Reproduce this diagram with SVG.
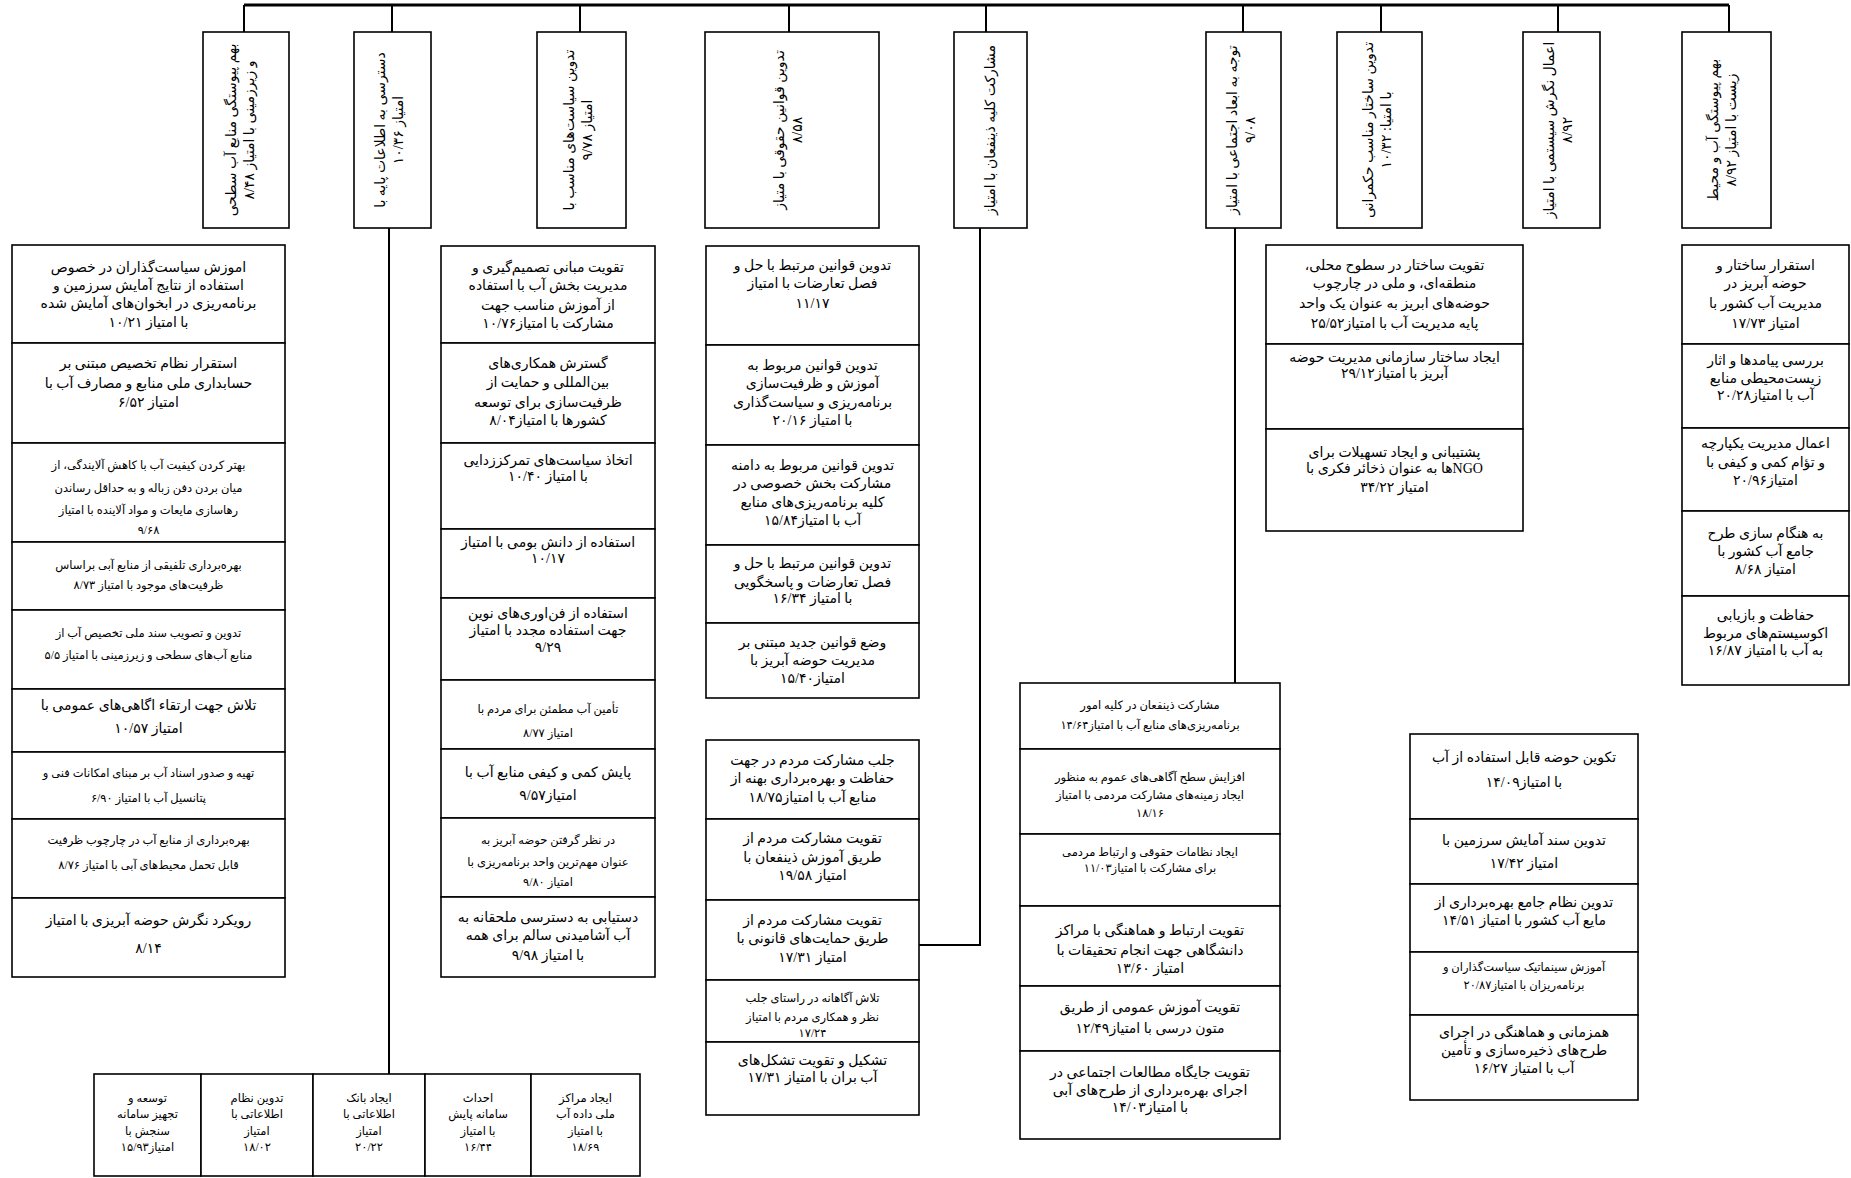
<svg xmlns="http://www.w3.org/2000/svg" width="1851" height="1178" viewBox="0 0 1851 1178">
<style>
.bx{fill:#fff;stroke:#000;stroke-width:1.6}
.ln{stroke:#000;stroke-width:2;fill:none}
.bus{stroke-width:3}
text{font-family:"Liberation Serif","DejaVu Sans",sans-serif;font-size:14px;text-anchor:middle;direction:rtl;fill:#000}
.s{font-size:11.5px}
.h{font-size:14px}
</style>
<rect width="1851" height="1178" fill="#fff"/>
<g id="connectors">
<path class="ln bus" d="M244,5H1729"/>
<path class="ln" d="M244,5V32M392,5V32M580,5V32M789,5V32M986,5V32M1243,5V32M1381,5V32M1558,5V32M1729,5V32"/>
<path class="ln" d="M389,228V1074"/>
<path class="ln" d="M980,228V945H919"/>
<path class="ln" d="M1235,228V683"/>
</g>
<!-- headers -->
<g id="h1"><rect class="bx" x="203" y="32" width="86" height="196"/><g transform="translate(240,130) rotate(-90)"><text class="h" y="-4">بهم پیوستگی منابع آب سطحی</text><text class="h" y="14">و زیرزمینی با امتیاز ۸/۴۸</text></g></g>
<g id="h2"><rect class="bx" x="354" y="32" width="77" height="196"/><g transform="translate(389,130) rotate(-90)"><text class="h" y="-4">دسترسی به اطلاعات پایه با</text><text class="h" y="14">امتیاز ۱۰/۳۶</text></g></g>
<g id="h3"><rect class="bx" x="537" y="32" width="89" height="196"/><g transform="translate(578,130) rotate(-90)"><text class="h" y="-4">تدوین سیاست&#8204;های مناسب با</text><text class="h" y="14">امتیاز ۹/۷۸</text></g></g>
<g id="h4"><rect class="bx" x="705" y="32" width="174" height="196"/><g transform="translate(788,130) rotate(-90)"><text class="h" y="-4">تدوین قوانین حقوقی با متیاز</text><text class="h" y="14">۸/۵۸</text></g></g>
<g id="h5"><rect class="bx" x="954" y="32" width="73" height="196"/><g transform="translate(990,130) rotate(-90)"><text class="h" y="5">مشارکت کلیه ذینفعان با امتیاز</text></g></g>
<g id="h6"><rect class="bx" x="1206" y="32" width="75" height="196"/><g transform="translate(1241,130) rotate(-90)"><text class="h" y="-4">توجه به ابعاد اجتماعی با امتیاز</text><text class="h" y="14">۹/۰۸</text></g></g>
<g id="h7"><rect class="bx" x="1337" y="32" width="85" height="196"/><g transform="translate(1377,130) rotate(-90)"><text class="h" y="-4">تدوین ساختار مناسب حکمرانی</text><text class="h" y="14">با امتیا: ۱۰/۳۲</text></g></g>
<g id="h8"><rect class="bx" x="1523" y="32" width="77" height="196"/><g transform="translate(1558,130) rotate(-90)"><text class="h" y="-4">اعمال نگرش سیستمی با امتیاز</text><text class="h" y="14">۸/۹۲</text></g></g>
<g id="h9"><rect class="bx" x="1682" y="32" width="89" height="196"/><g transform="translate(1722,130) rotate(-90)"><text class="h" y="-4">بهم پیوستگی آب و محیط</text><text class="h" y="14">زیست با امتیاز ۸/۹۲</text></g></g>
<!-- column 1 -->
<g id="c1a"><rect class="bx" x="12" y="245" width="273" height="98"/><text x="148.5" y="272">اموزش سیاست&#8204;گذاران در خصوص</text><text x="148.5" y="290">استفاده از نتایج آمایش سرزمین و</text><text x="148.5" y="308">برنامه&#8204;ریزی در ابخوان&#8204;های آمایش شده</text><text x="148.5" y="327">با امتیاز ۱۰/۲۱</text></g>
<g id="c1b"><rect class="bx" x="12" y="343" width="273" height="100"/><text x="148.5" y="368">استقرار نظام تخصیص مبتنی بر</text><text x="148.5" y="388">حسابداری ملی منابع و مصارف آب با</text><text x="148.5" y="407">امتیاز ۶/۵۲</text></g>
<g id="c1c"><rect class="bx" x="12" y="443" width="273" height="99"/><text class="s" x="148.5" y="469">بهتر کردن کیفیت آب با کاهش آلایندگی، از</text><text class="s" x="148.5" y="492">میان بردن دفن زباله و به حداقل رساندن</text><text class="s" x="148.5" y="514">رهاسازی مایعات و مواد آلاینده با امتیاز</text><text class="s" x="148.5" y="534">۹/۶۸</text></g>
<g id="c1d"><rect class="bx" x="12" y="542" width="273" height="68"/><text class="s" x="148.5" y="569">بهره&#8204;برداری تلفیقی از منابع آبی براساس</text><text class="s" x="148.5" y="589">ظرفیت&#8204;های موجود با امتیاز ۸/۷۳</text></g>
<g id="c1e"><rect class="bx" x="12" y="610" width="273" height="79"/><text class="s" x="148.5" y="637">تدوین و تصویب سند ملی تخصیص آب از</text><text class="s" x="148.5" y="659">منابع آب&#8204;های سطحی و زیرزمینی با امتیاز ۵/۵</text></g>
<g id="c1f"><rect class="bx" x="12" y="689" width="273" height="63"/><text x="148.5" y="710">تلاش جهت ارتقاء اگاهی&#8204;های عمومی با</text><text x="148.5" y="733">امتیاز ۱۰/۵۷</text></g>
<g id="c1g"><rect class="bx" x="12" y="752" width="273" height="67"/><text class="s" x="148.5" y="777">تهیه و صدور اسناد آب بر مبنای امکانات فنی و</text><text class="s" x="148.5" y="802">پتانسیل آب با امتیاز ۶/۹۰</text></g>
<g id="c1h"><rect class="bx" x="12" y="819" width="273" height="79"/><text class="s" x="148.5" y="844">بهره&#8204;برداری از منابع آب در چارچوب ظرفیت</text><text class="s" x="148.5" y="869">قابل تحمل محیط&#8204;های آبی با امتیاز ۸/۷۶</text></g>
<g id="c1i"><rect class="bx" x="12" y="898" width="273" height="79"/><text x="148.5" y="925">رویکرد نگرش حوضه آبریزی با امتیاز</text><text x="148.5" y="953">۸/۱۴</text></g>
<!-- column 2 -->
<g id="c2a"><rect class="bx" x="441" y="246" width="214" height="97"/><text x="548" y="272">تقویت مبانی تصمیم&#8204;گیری و</text><text x="548" y="290">مدیریت بخش آب با استفاده</text><text x="548" y="310">از آموزش مناسب جهت</text><text x="548" y="328">مشارکت با امتیاز۱۰/۷۶</text></g>
<g id="c2b"><rect class="bx" x="441" y="343" width="214" height="100"/><text x="548" y="368">گسترش همکاری&#8204;های</text><text x="548" y="387">بین&#8204;المللی و حمایت از</text><text x="548" y="407">ظرفیت&#8204;سازی برای توسعه</text><text x="548" y="425">کشورها با امتیاز۸/۰۴</text></g>
<g id="c2c"><rect class="bx" x="441" y="443" width="214" height="86"/><text x="548" y="465">اتخاذ سیاست&#8204;های تمرکززدایی</text><text x="548" y="481">با امتیاز ۱۰/۴۰</text></g>
<g id="c2d"><rect class="bx" x="441" y="529" width="214" height="69"/><text x="548" y="547">استفاده از دانش بومی با امتیاز</text><text x="548" y="563">۱۰/۱۷</text></g>
<g id="c2e"><rect class="bx" x="441" y="598" width="214" height="82"/><text x="548" y="618">استفاده از فن&#8204;اوری&#8204;های نوین</text><text x="548" y="635">جهت استفاده مجدد با امتیاز</text><text x="548" y="652">۹/۲۹</text></g>
<g id="c2f"><rect class="bx" x="441" y="680" width="214" height="69"/><text class="s" x="548" y="713">تأمین آب مطمئن برای مردم با</text><text class="s" x="548" y="737">امتیاز ۸/۷۷</text></g>
<g id="c2g"><rect class="bx" x="441" y="749" width="214" height="69"/><text x="548" y="777">پایش کمی و کیفی منابع آب با</text><text x="548" y="800">امتیاز۹/۵۷</text></g>
<g id="c2h"><rect class="bx" x="441" y="818" width="214" height="79"/><text class="s" x="548" y="844">در نظر گرفتن حوضه آبریز به</text><text class="s" x="548" y="866">عنوان مهم&#8204;ترین واحد برنامه&#8204;ریزی با</text><text class="s" x="548" y="886">امتیاز ۹/۸۰</text></g>
<g id="c2i"><rect class="bx" x="441" y="897" width="214" height="80"/><text x="548" y="922">دستیابی به دسترسی ملحقانه به</text><text x="548" y="940">آب آشامیدنی سالم برای همه</text><text x="548" y="960">با امتیاز ۹/۹۸</text></g>
<!-- column 3 -->
<g id="c3a"><rect class="bx" x="706" y="246" width="213" height="99"/><text x="812.5" y="270">تدوین قوانین مرتبط با حل و</text><text x="812.5" y="288">فصل تعارضات با امتیاز</text><text x="812.5" y="308">۱۱/۱۷</text></g>
<g id="c3b"><rect class="bx" x="706" y="345" width="213" height="100"/><text x="812.5" y="370">تدوین قوانین مربوط به</text><text x="812.5" y="388">آموزش و ظرفیت&#8204;سازی</text><text x="812.5" y="407">برنامه&#8204;ریزی و سیاست&#8204;گذاری</text><text x="812.5" y="425">با امتیاز ۲۰/۱۶</text></g>
<g id="c3c"><rect class="bx" x="706" y="445" width="213" height="100"/><text x="812.5" y="470">تدوین قوانین مربوط به دامنه</text><text x="812.5" y="488">مشارکت بخش خصوصی در</text><text x="812.5" y="507">کلیه برنامه&#8204;ریزی&#8204;های منابع</text><text x="812.5" y="525">آب با امتیاز۱۵/۸۴</text></g>
<g id="c3d"><rect class="bx" x="706" y="545" width="213" height="78"/><text x="812.5" y="568">تدوین قوانین مرتبط با حل و</text><text x="812.5" y="587">فصل تعارضات و پاسخگویی</text><text x="812.5" y="603">با امتیاز ۱۶/۳۴</text></g>
<g id="c3e"><rect class="bx" x="706" y="623" width="213" height="75"/><text x="812.5" y="647">وضع قوانین جدید مبتنی بر</text><text x="812.5" y="665">مدیریت حوضه آبریز با</text><text x="812.5" y="683">امتیاز۱۵/۴۰</text></g>
<g id="c3f"><rect class="bx" x="706" y="740" width="213" height="79"/><text x="812.5" y="765">جلب مشارکت مردم در جهت</text><text x="812.5" y="783">حفاظت و بهره&#8204;برداری بهنه از</text><text x="812.5" y="802">منابع آب با امتیاز۱۸/۷۵</text></g>
<g id="c3g"><rect class="bx" x="706" y="819" width="213" height="81"/><text x="812.5" y="843">تقویت مشارکت مردم از</text><text x="812.5" y="862">طریق آموزش ذینفعان با</text><text x="812.5" y="880">امتیاز ۱۹/۵۸</text></g>
<g id="c3h"><rect class="bx" x="706" y="900" width="213" height="80"/><text x="812.5" y="925">تقویت مشارکت مردم از</text><text x="812.5" y="943">طریق حمایت&#8204;های قانونی با</text><text x="812.5" y="962">امتیاز ۱۷/۳۱</text></g>
<g id="c3i"><rect class="bx" x="706" y="980" width="213" height="62"/><text class="s" x="812.5" y="1002">تلاش آگاهانه در راستای جلب</text><text class="s" x="812.5" y="1021">نظر و همکاری مردم با امتیاز</text><text class="s" x="812.5" y="1037">۱۷/۲۴</text></g>
<g id="c3j"><rect class="bx" x="706" y="1042" width="213" height="73"/><text x="812.5" y="1065">تشکیل و تقویت تشکل&#8204;های</text><text x="812.5" y="1082">آب بران با امتیاز ۱۷/۳۱</text></g>
<!-- column 4 -->
<g id="c4a"><rect class="bx" x="1020" y="683" width="260" height="66"/><text class="s" x="1150" y="709">مشارکت ذینفعان در کلیه امور</text><text class="s" x="1150" y="729">برنامه&#8204;ریزی&#8204;های منابع آب با امتیاز۱۴/۶۴</text></g>
<g id="c4b"><rect class="bx" x="1020" y="749" width="260" height="85"/><text class="s" x="1150" y="781">افزایش سطح آگاهی&#8204;های عموم به منظور</text><text class="s" x="1150" y="799">ایجاد زمینه&#8204;های مشارکت مردمی با امتیاز</text><text class="s" x="1150" y="817">۱۸/۱۶</text></g>
<g id="c4c"><rect class="bx" x="1020" y="834" width="260" height="72"/><text class="s" x="1150" y="856">ایجاد نظامات حقوقی و ارتباط مردمی</text><text class="s" x="1150" y="872">برای مشارکت با امتیاز۱۱/۰۳</text></g>
<g id="c4d"><rect class="bx" x="1020" y="906" width="260" height="80"/><text x="1150" y="935">تقویت ارتباط و هماهنگی با مراکز</text><text x="1150" y="955">دانشگاهی جهت انجام تحقیقات با</text><text x="1150" y="973">امتیاز ۱۳/۶۰</text></g>
<g id="c4e"><rect class="bx" x="1020" y="986" width="260" height="65"/><text x="1150" y="1012">تقویت آموزش عمومی از طریق</text><text x="1150" y="1033">متون درسی با امتیاز۱۲/۴۹</text></g>
<g id="c4f"><rect class="bx" x="1020" y="1051" width="260" height="88"/><text x="1150" y="1077">تقویت جایگاه مطالعات اجتماعی در</text><text x="1150" y="1095">اجرای بهره&#8204;برداری از طرح&#8204;های آبی</text><text x="1150" y="1112">با امتیاز۱۴/۰۳</text></g>
<!-- column 5 -->
<g id="c5a"><rect class="bx" x="1266" y="245" width="257" height="99"/><text x="1394.5" y="270">تقویت ساختار در سطوح محلی،</text><text x="1394.5" y="288">منطقه&#8204;ای، و ملی در چارچوب</text><text x="1394.5" y="308">حوضه&#8204;های ابریز به عنوان یک واحد</text><text x="1394.5" y="328">پایه مدیریت آب با امتیاز۲۵/۵۲</text></g>
<g id="c5b"><rect class="bx" x="1266" y="344" width="257" height="85"/><text x="1394.5" y="362">ایجاد ساختار سازمانی مدیریت حوضه</text><text x="1394.5" y="378">آبریز با امتیاز۲۹/۱۲</text></g>
<g id="c5c"><rect class="bx" x="1266" y="429" width="257" height="102"/><text x="1394.5" y="457">پشتیبانی و ایجاد تسهیلات برای</text><text x="1394.5" y="473">NGOها به عنوان ذخائر فکری با</text><text x="1394.5" y="492">امتیاز ۳۴/۲۲</text></g>
<!-- column 6 -->
<g id="c6a"><rect class="bx" x="1682" y="245" width="167" height="99"/><text x="1765.5" y="270">استقرار ساختار و</text><text x="1765.5" y="288">حوضه آبریز در</text><text x="1765.5" y="308">مدیریت آب کشور با</text><text x="1765.5" y="328">امتیاز ۱۷/۷۳</text></g>
<g id="c6b"><rect class="bx" x="1682" y="344" width="167" height="84"/><text x="1765.5" y="365">بررسی پیامدها و اثار</text><text x="1765.5" y="383">زیست&#8204;محیطی منابع</text><text x="1765.5" y="400">آب با امتیاز۲۰/۲۸</text></g>
<g id="c6c"><rect class="bx" x="1682" y="428" width="167" height="83"/><text x="1765.5" y="448">اعمال مدیریت یکپارچه</text><text x="1765.5" y="467">و تؤام کمی و کیفی با</text><text x="1765.5" y="485">امتیاز۲۰/۹۶</text></g>
<g id="c6d"><rect class="bx" x="1682" y="511" width="167" height="85"/><text x="1765.5" y="538">به هنگام سازی طرح</text><text x="1765.5" y="556">جامع آب کشور با</text><text x="1765.5" y="574">امتیاز ۸/۶۸</text></g>
<g id="c6e"><rect class="bx" x="1682" y="596" width="167" height="89"/><text x="1765.5" y="620">حفاظت و بازیابی</text><text x="1765.5" y="638">اکوسیستم&#8204;های مربوط</text><text x="1765.5" y="655">به آب با امتیاز ۱۶/۸۷</text></g>
<!-- column 7 -->
<g id="c7a"><rect class="bx" x="1410" y="734" width="228" height="85"/><text x="1524" y="762">تکوین حوضه قابل استفاده از آب</text><text x="1524" y="787">با امتیاز۱۴/۰۹</text></g>
<g id="c7b"><rect class="bx" x="1410" y="819" width="228" height="65"/><text x="1524" y="845">تدوین سند آمایش سرزمین با</text><text x="1524" y="868">امتیاز ۱۷/۴۲</text></g>
<g id="c7c"><rect class="bx" x="1410" y="884" width="228" height="68"/><text x="1524" y="907">تدوین نظام جامع بهره&#8204;برداری از</text><text x="1524" y="925">مایع آب کشور با امتیاز ۱۴/۵۱</text></g>
<g id="c7d"><rect class="bx" x="1410" y="952" width="228" height="63"/><text class="s" x="1524" y="971">آموزش سینماتیک سیاست&#8204;گذاران و</text><text class="s" x="1524" y="989">برنامه&#8204;ریزان با امتیاز۲۰/۸۷</text></g>
<g id="c7e"><rect class="bx" x="1410" y="1015" width="228" height="85"/><text x="1524" y="1037">همزمانی و هماهنگی در اجرای</text><text x="1524" y="1055">طرح&#8204;های ذخیره&#8204;سازی و تأمین</text><text x="1524" y="1073">آب با امتیاز ۱۶/۲۷</text></g>
<!-- bottom row -->
<g id="b1"><rect class="bx" x="94" y="1074" width="107" height="102"/><text class="s" x="147.5" y="1102">توسعه و</text><text class="s" x="147.5" y="1118">تجهیز سامانه</text><text class="s" x="147.5" y="1135">سنجش با</text><text class="s" x="147.5" y="1151">امتیاز۱۵/۹۳</text></g>
<g id="b2"><rect class="bx" x="201" y="1074" width="112" height="102"/><text class="s" x="257" y="1102">تدوین نظام</text><text class="s" x="257" y="1118">اطلاعاتی با</text><text class="s" x="257" y="1135">امتیاز</text><text class="s" x="257" y="1151">۱۸/۰۲</text></g>
<g id="b3"><rect class="bx" x="313" y="1074" width="112" height="102"/><text class="s" x="369" y="1102">ایجاد بانک</text><text class="s" x="369" y="1118">اطلاعاتی با</text><text class="s" x="369" y="1135">امتیاز</text><text class="s" x="369" y="1151">۲۰/۲۲</text></g>
<g id="b4"><rect class="bx" x="425" y="1074" width="106" height="102"/><text class="s" x="478" y="1102">احداث</text><text class="s" x="478" y="1118">سامانه پایش</text><text class="s" x="478" y="1135">با امتیاز</text><text class="s" x="478" y="1151">۱۶/۴۴</text></g>
<g id="b5"><rect class="bx" x="531" y="1074" width="109" height="102"/><text class="s" x="585.5" y="1102">ایجاد مراکز</text><text class="s" x="585.5" y="1118">ملی داده آب</text><text class="s" x="585.5" y="1135">با امتیاز</text><text class="s" x="585.5" y="1151">۱۸/۶۹</text></g>
</svg>
